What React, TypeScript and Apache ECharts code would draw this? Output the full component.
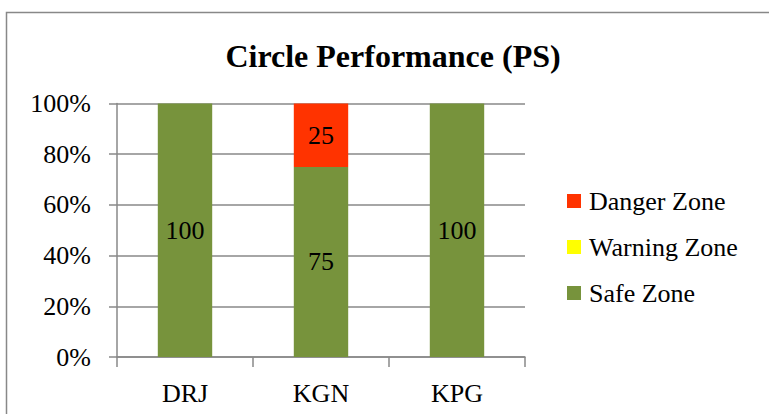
import React, { useEffect, useRef } from "react";
import * as echarts from "echarts";

const categories = ["DRJ", "KGN", "KPG"];
const safeZone = [100, 75, 100];
const warningZone = [0, 0, 0];
const dangerZone = [0, 25, 0];
const yTicks = [0, 20, 40, 60, 80, 100];

const FONT = "Liberation Serif";

export default function App() {
  const ref = useRef<HTMLDivElement>(null);
  useEffect(() => {
    document.body.style.margin = "0";
    const chart = echarts.init(ref.current!, undefined, { renderer: "svg" });
    const labelFmt = (p: any) => (p.value > 0 ? String(p.value) : "");
    const label = {
      show: true,
      position: "inside",
      color: "#000",
      fontFamily: FONT,
      fontSize: 26,
      formatter: labelFmt,
    };
    chart.setOption({
      animation: false,
      backgroundColor: "#fff",
      title: {
        text: "Circle Performance (PS)",
        left: 388,
        top: 35,
        textAlign: "center",
        textStyle: { fontFamily: FONT, fontSize: 32, fontWeight: "bold", color: "#000" },
      },
      graphic: [
        {
          type: "rect",
          shape: { x: 6.5, y: 12.5, width: 800, height: 500 },
          style: { fill: "none", stroke: "#888", lineWidth: 1.5 },
          silent: true,
        },
      ],
      legend: {
        orient: "vertical",
        left: 562,
        top: 183,
        itemGap: 20,
        itemWidth: 14,
        itemHeight: 14,
        icon: "rect",
        data: ["Danger Zone", "Warning Zone", "Safe Zone"],
        textStyle: { fontFamily: FONT, fontSize: 26, color: "#000", padding: [0, 0, 0, 3] },
      },
      grid: { left: 117, right: 244, top: 103.5, bottom: 57, containLabel: false },
      xAxis: {
        type: "category",
        data: categories,
        axisLine: { lineStyle: { color: "#888", width: 1.5 } },
        axisTick: { show: true, length: 10, lineStyle: { color: "#888", width: 1.5 } },
        axisLabel: { fontFamily: FONT, fontSize: 26, color: "#000", margin: 23 },
      },
      yAxis: {
        type: "value",
        min: 0,
        max: 100,
        interval: 20,
        axisLine: { show: true, lineStyle: { color: "#888", width: 1.5 } },
        axisTick: { show: true, length: 8, lineStyle: { color: "#888", width: 1.5 } },
        splitLine: { show: true, lineStyle: { color: "#888", width: 1.5 } },
        axisLabel: {
          fontFamily: FONT,
          fontSize: 26,
          color: "#000",
          margin: 26,
          formatter: (v: number) => (yTicks.includes(v) ? v + "%" : ""),
        },
      },
      series: [
        {
          name: "Safe Zone",
          type: "bar",
          stack: "z",
          data: safeZone,
          barWidth: "40%",
          itemStyle: { color: "#77933C" },
          label,
        },
        {
          name: "Warning Zone",
          type: "bar",
          stack: "z",
          data: warningZone,
          itemStyle: { color: "#FFFF00" },
          label,
        },
        {
          name: "Danger Zone",
          type: "bar",
          stack: "z",
          data: dangerZone,
          itemStyle: { color: "#FF3300" },
          label,
        },
      ],
    });
    return () => chart.dispose();
  }, []);
  return (
    <div
      ref={ref}
      style={{ position: "absolute", left: 0, top: 0, width: 769, height: 414 }}
    />
  );
}
